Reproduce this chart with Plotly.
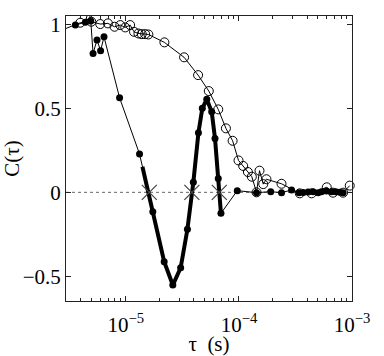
import plotly.graph_objects as go

# filled series (tau in s, C)
tau_filled = [3.57e-6, 4.38e-6, 4.68e-6, 4.89e-6, 5.12e-6, 5.55e-6, 5.97e-6, 6.40e-6,
              8.79e-6, 1.32e-5, 1.73e-5, 2.18e-5, 2.60e-5, 3.05e-5, 3.50e-5, 3.95e-5,
              4.38e-5, 4.74e-5, 5.19e-5, 5.74e-5, 6.14e-5, 6.56e-5, 6.93e-5, 9.66e-5,
              1.43e-4, 1.91e-4, 2.38e-4, 2.92e-4, 3.40e-4, 3.70e-4, 4.09e-4, 4.53e-4,
              5.01e-4, 5.37e-4, 5.94e-4, 6.58e-4, 7.18e-4, 7.78e-4, 8.34e-4]
c_filled = [0.996, 1.013, 1.09, 1.02, 0.827, 0.907, 0.843, 0.926,
            0.563, 0.228, -0.115, -0.413, -0.552, -0.449, -0.22, 0.06,
            0.355, 0.50, 0.554, 0.48, 0.321, 0.083, -0.125, 0.01,
            -0.002, 0.004, -0.002, 0.014, -0.003, -0.001, 0.002, 0.004,
            -0.003, 0.004, 0.008, 0.004, 0.004, 0.0, -0.003]

# thick oscillation segment
tau_thick = [1.40e-5, 1.73e-5, 2.18e-5, 2.60e-5, 3.05e-5, 3.50e-5, 3.95e-5, 4.38e-5,
             4.74e-5, 5.19e-5, 5.74e-5, 6.14e-5, 6.56e-5, 6.93e-5]
c_thick = [0.152, -0.115, -0.413, -0.552, -0.449, -0.22, 0.06, 0.355,
           0.50, 0.554, 0.48, 0.321, 0.083, -0.125]

# zero crossings
tau_cross = [1.61e-5, 3.83e-5, 6.70e-5]
c_cross = [0, 0, 0]

# open series
tau_open = [2.95e-6, 3.95e-6, 4.94e-6, 5.93e-6, 6.93e-6, 7.93e-6, 8.91e-6, 9.86e-6,
            1.09e-5, 1.18e-5, 1.29e-5, 1.38e-5, 1.48e-5, 1.58e-5, 2.19e-5, 3.27e-5,
            4.35e-5, 5.41e-5, 6.56e-5, 7.67e-5, 8.79e-5, 9.91e-5, 1.09e-4, 1.20e-4,
            1.30e-4, 1.43e-4, 1.52e-4, 1.64e-4, 1.75e-4, 2.38e-4, 3.45e-4, 4.39e-4,
            5.98e-4, 6.79e-4, 8.34e-4, 9.55e-4]
c_open = [0.976, 1.01, 1.016, 1.002, 1.006, 0.986, 0.996, 0.982,
          0.996, 0.956, 0.946, 0.942, 0.942, 0.940, 0.893, 0.804,
          0.698, 0.603, 0.494, 0.381, 0.307, 0.190, 0.157, 0.121,
          0.093, 0.0, 0.129, 0.049, 0.078, 0.051, -0.006, -0.006,
          0.030, -0.002, -0.002, 0.040]

xtick_vals = [1e-5, 1e-4, 1e-3]
xtick_text = ["10<sup>\u22125</sup>", "10<sup>\u22124</sup>", "10<sup>\u22123</sup>"]
minor_vals = [k * 10.0 ** e for e in (-6, -5, -4) for k in range(2, 10)]

fig = go.Figure()

fig.add_shape(type="line", xref="paper", x0=0, x1=1, yref="y", y0=0, y1=0,
              line=dict(color="#666", width=1, dash="dot"), layer="below")

fig.add_trace(go.Scatter(x=tau_open, y=c_open, mode="lines+markers",
                         line=dict(color="black", width=1),
                         marker=dict(symbol="circle-open", size=9, color="black", line=dict(width=1)),
                         cliponaxis=False))
fig.add_trace(go.Scatter(x=tau_filled, y=c_filled, mode="lines+markers",
                         line=dict(color="black", width=1),
                         marker=dict(symbol="circle", size=7, color="black")))
fig.add_trace(go.Scatter(x=tau_thick, y=c_thick, mode="lines",
                         line=dict(color="black", width=4)))
fig.add_trace(go.Scatter(x=tau_cross, y=c_cross, mode="markers",
                         marker=dict(symbol="x-thin", size=15, line=dict(color="#444", width=1.2))))

serif = dict(family="Liberation Serif", size=21, color="black")

fig.update_layout(
    width=384, height=356,
    margin=dict(l=66, r=32, t=16, b=55),
    showlegend=False,
    plot_bgcolor="white", paper_bgcolor="white",
    font=serif,
)
fig.update_xaxes(type="log", range=[-5.53, -3.0], automargin=False,
                 tickvals=xtick_vals, ticktext=xtick_text, tickfont=serif,
                 ticks="inside", ticklen=5, tickcolor="#222", ticklabelstandoff=5,
                 minor=dict(tickvals=minor_vals, ticks="inside", ticklen=3, tickcolor="#222"),
                 showline=True, linecolor="#222", linewidth=1, mirror="ticks",
                 showgrid=False, zeroline=False,
                 title=dict(text="\u03c4  (s)", font=serif, standoff=0))
fig.update_yaxes(range=[-0.647, 1.05], tickvals=[-0.5, 0, 0.5, 1], tickfont=serif,
                 automargin=False,
                 ticks="inside", ticklen=5, tickcolor="#222",
                 showline=True, linecolor="#222", linewidth=1, mirror="ticks",
                 showgrid=False, zeroline=False,
                 title=dict(text="C(\u03c4)", font=serif, standoff=4))

fig.write_html("out.html", config={"displayModeBar": False},
               post_script="document.body.style.margin='0';")
